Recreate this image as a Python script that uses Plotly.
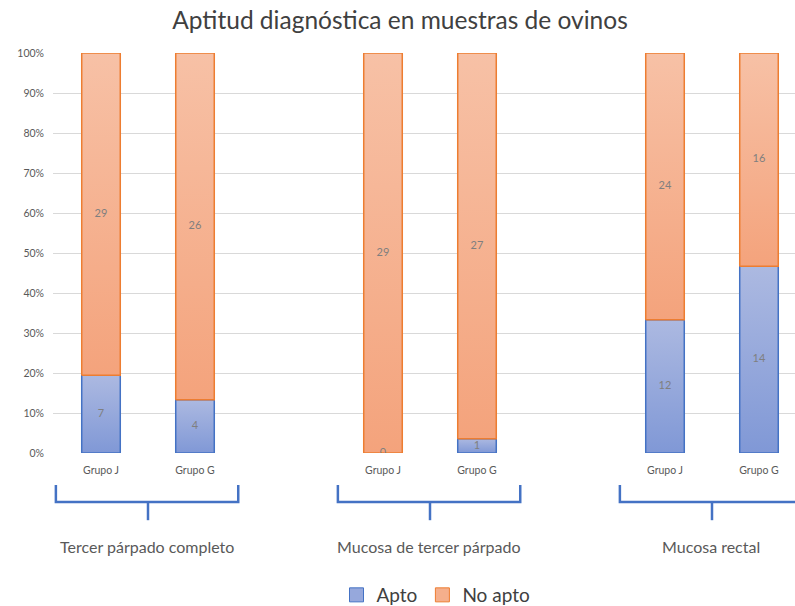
import plotly.graph_objects as go

# Diagnostic aptitude of sheep samples, by sample type and group
groups = ["Tercer párpado completo", "Mucosa de tercer párpado", "Mucosa rectal"]
subgroups = ["Grupo J", "Grupo G"]
apto = [7, 4, 0, 1, 12, 14]
no_apto = [29, 26, 29, 27, 24, 16]
y_ticks = [0, 0.1, 0.2, 0.3, 0.4, 0.5, 0.6, 0.7, 0.8, 0.9, 1.0]

FONT = "Lato"
TEXT = "#404040"
BLUE_LINE = "#4472c4"
ORANGE_LINE = "#ed7d31"
BLUE_GRAD = [[0, "rgb(128,152,214)"], [1, "rgb(172,185,225)"]]
ORANGE_GRAD = [[0, "rgb(244,163,124)"], [1, "rgb(247,193,166)"]]
HALF_W = 0.205  # half bar width in category units

# each group occupies three category slots (two bars and a gap)
x_pos = [g * 3 + s for g in range(len(groups)) for s in range(len(subgroups))]
x_labels = [subgroups[s] for g in range(len(groups)) for s in range(len(subgroups))]

fig = go.Figure()

label_x, label_y, label_t = [], [], []
for x, a, n in zip(x_pos, apto, no_apto):
    total = a + n
    segs = [(0, a / total, a, BLUE_GRAD, BLUE_LINE),
            (a / total, 1.0, n, ORANGE_GRAD, ORANGE_LINE)]
    for y0, y1, v, grad, line in segs:
        if y1 > y0:
            fig.add_trace(go.Scatter(
                x=[x - HALF_W, x + HALF_W, x + HALF_W, x - HALF_W, x - HALF_W],
                y=[y0, y0, y1, y1, y0],
                mode="lines", fill="toself",
                fillgradient=dict(type="vertical", colorscale=grad, start=y0, stop=y1),
                line=dict(color=line, width=1.5),
                hoverinfo="skip", showlegend=False,
            ))
        label_x.append(x)
        label_y.append((y0 + y1) / 2)
        label_t.append(str(v))

# value labels centred in each segment
fig.add_trace(go.Scatter(
    x=label_x, y=label_y, text=label_t, mode="text",
    textfont=dict(family=FONT, size=11, color="#7f7f7f"),
    hoverinfo="skip", showlegend=False,
))

# legend entries
for name, fill, line in [("Apto", "rgb(150,168,220)", BLUE_LINE),
                         ("No apto", "rgb(245,175,140)", ORANGE_LINE)]:
    fig.add_trace(go.Scatter(
        x=[None], y=[None], mode="markers", name=name,
        marker=dict(symbol="square", size=14, color=fill, line=dict(color=line, width=1)),
    ))

# group brackets and names below the category labels
for g, name in enumerate(groups):
    left, right, mid = g * 3 - 0.48, g * 3 + 1.46, g * 3 + 0.5
    fig.add_shape(type="path", xref="x", yref="paper",
                  path=f"M {left},-0.08 L {left},-0.1225 L {right},-0.1225 L {right},-0.08",
                  line=dict(color=BLUE_LINE, width=2.5))
    fig.add_shape(type="line", xref="x", yref="paper", x0=mid, x1=mid, y0=-0.1225, y1=-0.168,
                  line=dict(color=BLUE_LINE, width=2.5))
    fig.add_annotation(x=mid - 0.01, y=-0.2325, xref="x", yref="paper", text=name,
                       showarrow=False, yanchor="middle",
                       font=dict(family=FONT, size=16, color="#595959"))

fig.update_layout(
    width=795, height=606,
    margin=dict(l=53, r=0, t=53, b=153),
    paper_bgcolor="white", plot_bgcolor="white",
    title=dict(text="Aptitud diagnóstica en muestras de ovinos",
               x=400 / 795, xanchor="center", y=1 - 20 / 606, yanchor="middle",
               font=dict(family=FONT, size=24.5, color=TEXT)),
    xaxis=dict(range=[-0.5106, 7.383], tickvals=x_pos, ticktext=x_labels,
               showgrid=False, zeroline=False, showline=False,
               ticks="outside", ticklen=7, tickcolor="rgba(0,0,0,0)",
               tickfont=dict(family=FONT, size=10.5, color="#595959")),
    yaxis=dict(range=[0, 1], tickvals=y_ticks, tickformat=".0%",
               showgrid=True, gridcolor="#d9d9d9", gridwidth=1,
               zeroline=False, showline=False, ticklabelstandoff=8,
               tickfont=dict(family=FONT, size=10.5, color="#595959")),
    legend=dict(orientation="h", x=(436 - 53) / 742, xanchor="center",
                yref="container", y=1 - 595 / 606, yanchor="middle",
                font=dict(family=FONT, size=19, color=TEXT),
                itemwidth=30, tracegroupgap=0),
    showlegend=True,
)

fig.write_html("out.html")
